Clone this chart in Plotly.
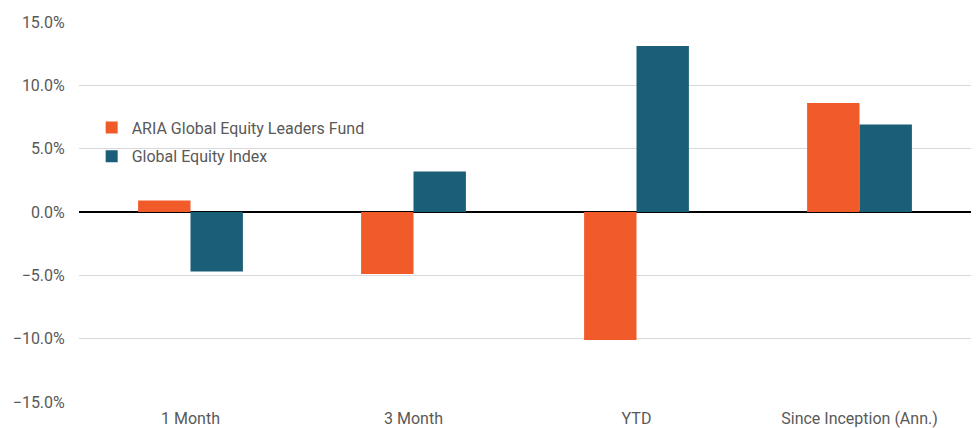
import plotly.graph_objects as go

categories = ["1 Month", "3 Month", "YTD", "Since Inception (Ann.)"]
fund = [0.009, -0.049, -0.101, 0.086]
index = [-0.047, 0.032, 0.131, 0.069]
series_names = ["ARIA Global Equity Leaders Fund", "Global Equity Index"]
tick_vals = [-0.15, -0.10, -0.05, 0.0, 0.05, 0.10, 0.15]

fig = go.Figure()
fig.add_trace(go.Bar(x=categories, y=fund, name=series_names[0], legendgroup="a",
                     marker_color="#F15A29", marker_line_width=0))
fig.add_trace(go.Bar(x=categories, y=index, name=series_names[1], legendgroup="b",
                     marker_color="#1B5E78", marker_line_width=0))

fig.update_layout(
    width=963, height=420,
    margin=dict(l=71, r=0, t=14, b=26),
    paper_bgcolor="white", plot_bgcolor="white",
    barmode="group", bargap=0.53, bargroupgap=0,
    font=dict(family="Roboto", size=16, color="#595959"),
    showlegend=True,
    legend=dict(x=0.0142, y=0.767, xanchor="left", yanchor="top", bgcolor="rgba(0,0,0,0)",
                font=dict(size=16, color="#595959"), itemwidth=30,
                traceorder="grouped", tracegroupgap=5),
    xaxis=dict(showgrid=False, showline=False, ticks="outside", ticklen=2, tickcolor="rgba(0,0,0,0)",
               tickfont=dict(size=16), automargin=False),
    yaxis=dict(range=[-0.15, 0.15], tickvals=tick_vals, tickformat=".1%",
               showgrid=True, gridcolor="#D9D9D9", gridwidth=1,
               zeroline=True, zerolinecolor="#000000", zerolinewidth=2,
               ticks="outside", ticklen=10, tickcolor="rgba(0,0,0,0)", tickfont=dict(size=16),
               automargin=False),
)

fig.write_html("out.html")
